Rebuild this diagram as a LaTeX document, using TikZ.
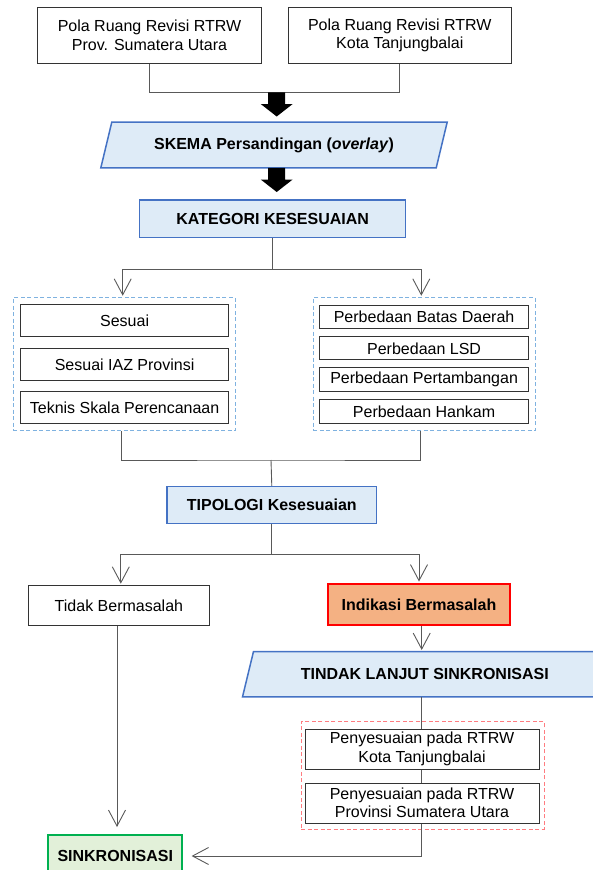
\documentclass[tikz,border=0pt]{standalone}
\usepackage{fontspec}
\setmainfont{Liberation Sans}
\usetikzlibrary{arrows.meta,calc}
\pgfdeclarelayer{background}
\pgfsetlayers{background,main}
\definecolor{bfill}{HTML}{DEEBF7}
\definecolor{bdraw}{HTML}{4472C4}
\definecolor{dblue}{HTML}{7FB2E0}
\definecolor{dred}{HTML}{FF7C80}
\definecolor{ofill}{HTML}{F4B183}
\definecolor{gfill}{HTML}{E2F0D9}
\definecolor{gdraw}{HTML}{00B050}
\definecolor{lgray}{HTML}{595959}
\newcommand{\dgfont}{\fontsize{16}{18.5}\selectfont}
\newcommand{\bigarrow}[2]{%
  \fill[black] ($(#1)+(-8.5,0)$) -- ($(#1)+(8.5,0)$) -- ($(#2)+(8.5,-12.5)$) -- ($(#2)+(16,-12.5)$) -- (#2) -- ($(#2)+(-16,-12.5)$) -- ($(#2)+(-8.5,-12.5)$) -- cycle;}
\begin{document}
\begin{tikzpicture}[x=1pt,y=-1pt,
  box/.style={draw=black!80, line width=1pt, fill=white, align=center, inner sep=0pt, font=\dgfont},
  hl/.style={draw=bdraw, fill=bfill, line width=1.5pt, align=center, inner sep=0pt, font=\dgfont\bfseries},
  hltext/.style={align=center, inner sep=0pt, font=\dgfont\bfseries},
  pg/.style={draw=bdraw, fill=bfill, line width=1.5pt},
  dashblue/.style={draw=dblue, line width=0.9pt, dash pattern=on 4pt off 2.5pt, inner sep=0pt},
  dashred/.style={draw=dred, line width=0.9pt, dash pattern=on 4pt off 2.5pt, inner sep=0pt},
  ind/.style={draw=red, fill=ofill, line width=2pt, align=center, inner sep=0pt, font=\dgfont\bfseries},
  sinkbox/.style={draw=gdraw, fill=gfill, line width=2pt, align=center, inner sep=0pt, font=\dgfont\bfseries},
  con/.style={draw=lgray, line width=0.9pt},
  arr/.style={con, -{Straight Barb[length=16pt,width=17pt]}, shorten >=1.5pt}
]
\useasboundingbox (0,0) rectangle (592,870);

% top boxes
\node[box, minimum width=223.5pt, minimum height=55.7pt] (tl) at (149.5,35.2) {Pola Ruang Revisi RTRW\\Prov. Sumatera Utara};
\node[box, minimum width=223.5pt, minimum height=55.7pt] (tr) at (399.8,35.2) {Pola Ruang Revisi RTRW\\Kota Tanjungbalai};
\coordinate (j1) at (276.7,92.3);

% skema
\node[hltext, minimum width=346pt, minimum height=45.4pt] (skema) at (274,145) {SKEMA Persandingan (\textit{overlay})};
\begin{pgfonlayer}{background}
\draw[pg] (skema.south west) -- ([xshift=11pt]skema.north west) -- (skema.north east) -- ([xshift=-11pt]skema.south east) -- cycle;
\end{pgfonlayer}

\node[hl, minimum width=266pt, minimum height=37.3pt] (kat) at (272.7,218.7) {KATEGORI KESESUAIAN};
\coordinate (j2) at (272.7,269);

% dashed groups
\node[dashblue, minimum width=222pt, minimum height=133pt] (dl) at (124.2,364.2) {};
\node[dashblue, minimum width=222pt, minimum height=133pt] (dr) at (424.3,364.2) {};
\node[box, minimum width=207.6pt, minimum height=31.7pt] (s1) at (124.6,320.8) {Sesuai};
\node[box, minimum width=207.6pt, minimum height=31.7pt] (s2) at (124.6,364.8) {Sesuai IAZ Provinsi};
\node[box, minimum width=207.6pt, minimum height=31.7pt] (s3) at (124.6,407.5) {Teknis Skala Perencanaan};
\node[box, minimum width=208.8pt, minimum height=23.3pt] (p1) at (424.1,316.7) {Perbedaan Batas Daerah};
\node[box, minimum width=208.8pt, minimum height=23.3pt] (p2) at (424.1,348.3) {Perbedaan LSD};
\node[box, minimum width=208.8pt, minimum height=24pt] (p3) at (424.1,379.7) {Perbedaan Pertambangan};
\node[box, minimum width=208.8pt, minimum height=24pt] (p4) at (424.1,411.3) {Perbedaan Hankam};

\coordinate (j3) at (271,460);
\node[hl, minimum width=209.2pt, minimum height=36.6pt] (tip) at (271.8,505) {TIPOLOGI Kesesuaian};
\coordinate (j4) at (271.8,554.3);

\node[box, minimum width=181.2pt, minimum height=40pt] (tidak) at (118.9,605.7) {Tidak Bermasalah};
\node[ind, minimum width=181.2pt, minimum height=41.3pt] (ind) at (419,604.7) {Indikasi Bermasalah};

\node[hltext, minimum width=364.3pt, minimum height=45pt] (tind) at (424.85,674.2) {TINDAK LANJUT SINKRONISASI};
\begin{pgfonlayer}{background}
\draw[pg] (tind.south west) -- ([xshift=11pt]tind.north west) -- (tind.north east) -- ([xshift=-11pt]tind.south east) -- cycle;
\end{pgfonlayer}

\node[dashred, minimum width=243pt, minimum height=107.3pt] (dred) at (422.5,775.3) {};
\node[box, minimum width=234pt, minimum height=40pt] (pen1) at (422,749) {Penyesuaian pada RTRW\\Kota Tanjungbalai};
\node[box, minimum width=234pt, minimum height=40pt] (pen2) at (422,803) {Penyesuaian pada RTRW\\Provinsi Sumatera Utara};
\coordinate (j5) at (421.7,856);

\node[sinkbox, minimum width=134pt, minimum height=42pt] (sink) at (115.3,856) {SINKRONISASI};

% connectors
\draw[con] (tl.south) |- (j1) -| (tr.south);
\coordinate (a1s) at (j1);
\coordinate (a1t) at ($(skema.north -| j1)+(0,-5.6)$);
\bigarrow{a1s}{a1t}
\coordinate (a2s) at (skema.south -| j1);
\coordinate (a2t) at ($(kat.north -| j1)+(0,-7.3)$);
\bigarrow{a2s}{a2t}

\draw[con] (kat.south) -- (j2);
\draw[arr] (j2) -| ([xshift=-1.5pt]dl.north);
\draw[arr] (j2) -| ([xshift=-3pt]dr.north);
\draw[con] ([xshift=-2.6pt]dl.south) |- (j3) -| ([xshift=-4.1pt]dr.south);
\draw[con] (j3) -- (tip.north);
\draw[con] (tip.south) -- (j4);
\draw[arr] (j4) -| ([xshift=1.9pt]tidak.north);
\draw[arr] (j4) -| (ind.north);
\draw[arr] ([xshift=2.7pt]ind.south) -- ([xshift=2.7pt]ind.south |- tind.north);
\draw[con] (tind.south -| j5) -- (pen1.north -| j5);
\draw[con] (pen1.south -| j5) -- (pen2.north -| j5);
\draw[con] (pen2.south -| j5) -- (j5);
\draw[arr, shorten >=8.3pt] (j5) -- (sink.east);
\draw[arr, shorten >=7pt] ([xshift=-1.9pt]tidak.south) -- ([xshift=-1.9pt]tidak.south |- sink.north);
\end{tikzpicture}
\end{document}
